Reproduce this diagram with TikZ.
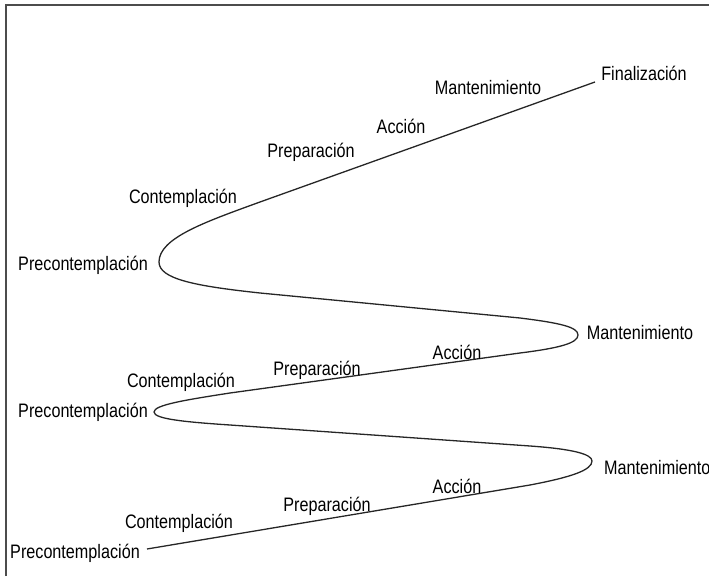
\documentclass[tikz,border=0pt]{standalone}
\usepackage{fontspec}
\setmainfont{Liberation Sans}[FakeStretch=0.83]
\usepackage{tikz}
\usetikzlibrary{positioning}
\tikzstyle{etapa} = [inner sep=0pt, text=black, font=\fontsize{19.5}{21}\selectfont]
\tikzstyle{espiral} = [line width=1.3pt, draw=black!85, line join=round]
\tikzstyle{marco} = [line width=1.2pt, draw=black!70]

\begin{document}
\begin{tikzpicture}[x=1pt, y=1pt]
\useasboundingbox (0,0) rectangle (709,576);
% marco
\coordinate (esq) at (6,571);
\coordinate (bajo) at (6,0);
\coordinate (der) at (709,571);
\draw [marco] (bajo) -- (esq) -- (der);
% puntos de la curva
\coordinate (fin) at (595,494);
\coordinate (b1) at (260,374);
\coordinate (vpre1) at (159,314);
\coordinate (b2) at (260,283);
\coordinate (b3) at (520,258);
\coordinate (vman2) at (578,241);
\coordinate (b4) at (520,223);
\coordinate (b5) at (230,183);
\coordinate (vpre2) at (154,164);
\coordinate (b6) at (230,151);
\coordinate (b7) at (530,130);
\coordinate (vman3) at (592,115);
\coordinate (b8) at (530,91);
\coordinate (ini) at (147,27);
\draw [espiral] (fin) -- (b1)
  .. controls (205,354) and (159,338) .. (vpre1)
  .. controls (159,297) and (195,290) .. (b2) -- (b3)
  .. controls (560,253) and (578,249) .. (vman2)
  .. controls (578,233) and (560,228) .. (b4) -- (b5)
  .. controls (185,176) and (154,171) .. (vpre2)
  .. controls (154,157) and (185,154) .. (b6) -- (b7)
  .. controls (572,127) and (592,122) .. (vman3)
  .. controls (592,106) and (572,99) .. (b8) -- (ini);
% etiquetas, primer ciclo (abajo)
\node (pre3) [etapa] at (75,23) {Precontemplación};
\node (con3) [etapa] at (179,53) {Contemplación};
\node (prep3) [etapa] at (327,70) {Preparación};
\node (acc3) [etapa] at (457,90) {Acción};
\node (man3) [etapa, anchor=west] at (604,108) {Mantenimiento};
% segundo ciclo
\node (pre2) [etapa] at (83,164) {Precontemplación};
\node (con2) [etapa] at (181,194) {Contemplación};
\node (prep2) [etapa] at (317,206) {Preparación};
\node (acc2) [etapa] at (457,224) {Acción};
\node (man2) [etapa] at (640,243) {Mantenimiento};
% tercer ciclo
\node (pre1) [etapa] at (83,311) {Precontemplación};
\node (con1) [etapa] at (183,378) {Contemplación};
\node (prep1) [etapa] at (311,424) {Preparación};
\node (acc1) [etapa] at (401,450) {Acción};
\node (man1) [etapa] at (488,488) {Mantenimiento};
\node (final) [etapa] at (644,503) {Finalización};
\end{tikzpicture}
\end{document}
